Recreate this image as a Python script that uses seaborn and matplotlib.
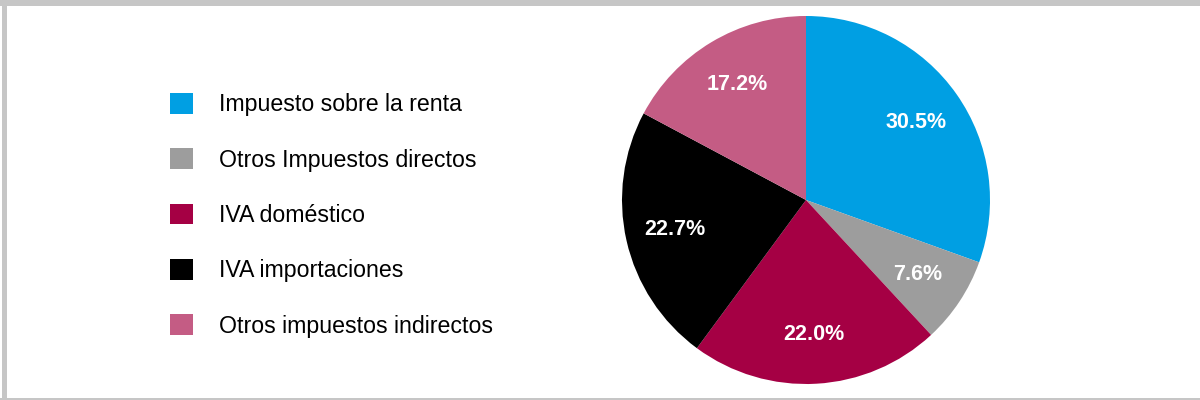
import matplotlib
matplotlib.use('Agg')
import matplotlib.pyplot as plt
from matplotlib.patches import Patch, Rectangle
import seaborn as sns

# datos
categorias = ['Impuesto sobre la renta', 'Otros Impuestos directos', 'IVA doméstico',
              'IVA importaciones', 'Otros impuestos indirectos']
valores = [30.5, 7.6, 22.0, 22.7, 17.2]
colores = ['#009FE3', '#9D9D9D', '#A50044', '#000000', '#C45C84']

sns.set_theme(style='white')
plt.rcParams['font.family'] = ['Liberation Sans', 'DejaVu Sans']

fig = plt.figure(figsize=(12, 4), dpi=100)

# pastel
ax = fig.add_axes([(806 - 184) / 1200, (200 - 184) / 400, 368 / 1200, 368 / 400])
wedges, texts, autotexts = ax.pie(valores, colors=colores, startangle=90, counterclock=False,
                                  autopct='%1.1f%%', pctdistance=0.73,
                                  wedgeprops={'linewidth': 0})
for t in autotexts:
    t.set_color('white')
    t.set_fontweight('bold')
    t.set_fontsize(15.5)
ax.set_xlim(-1, 1)
ax.set_ylim(-1, 1)
ax.set_aspect('equal')
ax.axis('off')

# leyenda
handles = [Patch(facecolor=c, edgecolor='none') for c in colores]
fig.legend(handles, categorias, loc='upper left', bbox_to_anchor=(170 / 1200, 1 - 93 / 400),
           frameon=False, fontsize=16.7, labelcolor='black', handlelength=1.0, handleheight=1.0,
           handletextpad=1.1, labelspacing=1.38, borderpad=0, borderaxespad=0)

# marco gris
borde = '#C6C6C6'
fig.patches.append(Rectangle((0, 1 - 6 / 400), 1, 6 / 400, transform=fig.transFigure,
                             facecolor=borde, edgecolor='none'))
fig.patches.append(Rectangle((2 / 1200, 0), 5 / 1200, 1, transform=fig.transFigure,
                             facecolor=borde, edgecolor='none'))
fig.patches.append(Rectangle((0, 0), 1, 2 / 400, transform=fig.transFigure,
                             facecolor=borde, edgecolor='none'))

fig.savefig('out.png', dpi=100)
